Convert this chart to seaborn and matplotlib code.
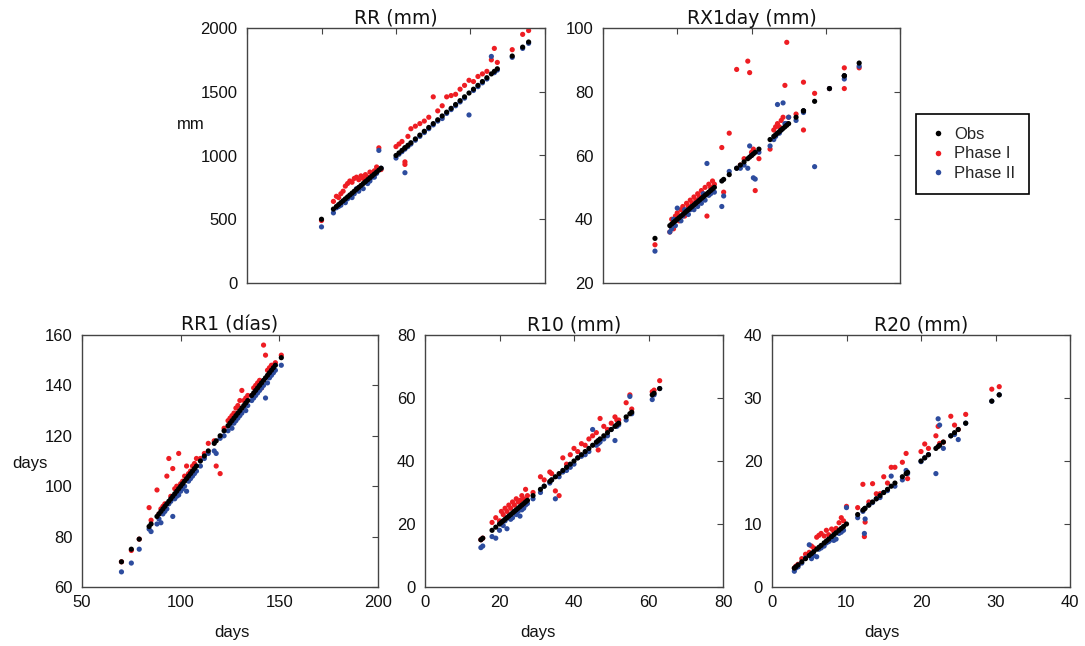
import matplotlib
matplotlib.use("Agg")
import matplotlib.pyplot as plt
from matplotlib.lines import Line2D
import pandas as pd
import seaborn as sns

# ---------------- data (x = observed value, y = value of each series) ----------------
rr_obs = [500, 580, 600, 615, 630, 645, 660, 675, 690, 705,
          720, 735, 750, 765, 780, 795, 810, 825, 840, 855,
          870, 885, 900, 1000, 1020, 1040, 1060, 1060, 1080, 1100,
          1130, 1160, 1190, 1220, 1250, 1280, 1310, 1340, 1370, 1400,
          1430, 1460, 1490, 1520, 1550, 1580, 1610, 1640, 1660, 1680,
          1780, 1850, 1890]
rr_p1 = [490, 640, 680, 670, 700, 720, 760, 780, 800, 790,
         820, 830, 810, 840, 820, 850, 830, 870, 850, 880,
         910, 1060, 890, 1070, 1090, 1110, 930, 950, 1150, 1210,
         1230, 1250, 1270, 1300, 1460, 1350, 1390, 1460, 1470, 1480,
         1520, 1550, 1590, 1580, 1620, 1640, 1660, 1750, 1840, 1730,
         1830, 1950, 1980]
rr_p2 = [440, 550, 590, 600, 610, 640, 630, 660, 680, 670,
         700, 740, 720, 750, 740, 790, 780, 800, 830, 830,
         860, 1040, 900, 980, 1010, 1030, 865, 1050, 1070, 1090,
         1120, 1150, 1180, 1210, 1240, 1270, 1290, 1330, 1360, 1390,
         1420, 1450, 1318, 1510, 1540, 1570, 1600, 1777, 1650, 1670,
         1770, 1840, 1880]

rx_obs = [34, 38, 38.5, 39, 39.5, 40, 40.5, 41, 41.5, 42,
          42.5, 43, 43.5, 44, 44.5, 45, 45.5, 46, 46.5, 47,
          47.5, 48, 48.5, 49, 49.5, 50, 52, 52.5, 54, 56,
          57, 58, 59, 59.5, 60, 60.5, 61, 62, 65, 66,
          66.5, 67, 67.5, 68, 68.5, 69, 69.5, 70, 72, 74,
          74, 77, 81, 85, 85, 89]
rx_p1 = [32, 36, 40, 37, 41, 42, 39.5, 43, 44, 41,
         45, 44, 46, 45, 47, 46, 48, 47, 49, 48,
         50, 41, 51, 50, 52, 51, 62.5, 48.5, 67, 87,
         57, 59, 89.6, 86, 61, 62, 49, 59, 62, 68,
         69, 70, 69, 71, 72, 82, 95.5, 72, 73, 83,
         68, 79.5, 81, 87.5, 81, 87.5]
rx_p2 = [30, 36, 37, 40, 38, 43.5, 40, 39.5, 41, 43,
         42, 41.5, 43, 44, 43, 45, 44, 46, 45, 48,
         46, 57.5, 47.5, 48, 49, 48.5, 44, 47.3, 55, 56,
         56, 57, 56, 63, 60, 53, 52.6, 61, 63, 65,
         66, 76, 67, 68, 76.5, 70, 70, 72, 71, 74,
         73.5, 56.5, 81, 85, 84, 88]

rr1_obs = [70, 75, 79, 84, 85, 88, 89, 90, 91, 92,
           93, 94, 95, 96, 97, 98, 99, 100, 101, 102,
           103, 104, 105, 106, 107, 108, 110, 112, 114, 117,
           118, 120, 122, 124, 125, 126, 127, 128, 129, 130,
           131, 132, 133, 134, 136, 137, 138, 139, 140, 141,
           142, 143, 144, 145, 146, 147, 148, 151]
rr1_p1 = [70, 74.5, 79, 91.5, 86.5, 98.5, 89, 91, 92, 93,
          104, 111, 96, 107, 99, 100, 113, 101, 102, 104,
          108, 105, 106, 108, 109, 111, 111, 113, 117, 118,
          108, 105, 123, 126, 127, 128, 129, 131, 132, 134,
          138, 134, 135, 136, 136, 139, 140, 141, 142, 139,
          156, 152, 146, 147, 148, 148, 149, 152]
rr1_p2 = [66, 69.5, 75, 83, 82, 85, 87, 85.5, 89, 90,
          91, 93, 94, 88, 95, 96, 96.5, 98, 99, 100,
          98, 102, 103, 104, 105, 106, 108, 111, 113, 114,
          113, 119, 120, 122, 124, 123, 125, 126, 127, 128,
          129, 131, 130, 132, 134, 135, 136, 137, 138, 139,
          140, 135, 141, 143, 144, 145, 146, 148]

r10_obs = [15, 15.5, 18, 19, 20, 20.5, 21, 21.5, 22, 22.5,
           23, 23.5, 24, 24.5, 25, 25.5, 26, 26.5, 27, 27.5,
           29, 31, 32, 33.5, 34, 35, 36, 37, 38, 39,
           40, 41, 42, 43, 44, 45, 46, 46.5, 47, 48,
           49, 50, 51, 51.5, 52, 54, 55, 55.5, 61, 61.5,
           63]
r10_p1 = [15, 15.5, 20.5, 22, 21, 24, 23, 25, 24, 26,
          25, 27, 26, 28, 27, 27.5, 29, 28, 31, 29,
          30, 35, 34, 36.5, 36, 30.5, 29, 41, 39, 42,
          44, 43, 45.5, 45, 47, 48, 49, 43.5, 53.5, 51,
          50, 52, 54, 53, 53, 58.5, 61, 56.5, 62, 62.5,
          65.5]
r10_p2 = [12.5, 13, 16, 15.5, 18, 20, 19.5, 21, 18.5, 22,
          21.5, 22, 24, 23, 24, 22.5, 24.5, 25, 26, 26.5,
          28, 30, 32, 33, 34, 28, 35, 36.5, 37, 38,
          39, 41, 41.5, 42, 43, 50, 45, 45.5, 46, 47,
          48, 50, 46.5, 51, 51.5, 53, 60.5, 55, 59.5, 61,
          63]

r20_obs = [3, 3.2, 3.5, 4, 4.5, 5, 5.3, 5.6, 6, 6.3,
           6.6, 7, 7.3, 7.6, 8, 8.3, 8.6, 9, 9.3, 9.6,
           10, 11.5, 12.2, 12.4, 12.5, 13, 13.5, 14, 14.5, 15,
           15.5, 16, 16.5, 17.5, 18, 18.2, 20, 20.5, 21, 22,
           22.3, 22.5, 23, 24, 24.5, 25, 26, 29.5, 30.5]
r20_p1 = [3, 3.3, 3.6, 4.5, 5.2, 5.5, 6.5, 6.2, 7.9, 8.2,
          8.5, 8.1, 9.0, 8.3, 9.2, 8.8, 9.3, 10.2, 11, 10.5,
          12.8, 12.6, 16.3, 8.0, 10.3, 13.5, 16.4, 14.8, 14.8, 17.5,
          16.5, 19, 19, 19.8, 21.2, 17.2, 21.5, 22.7, 22, 24,
          25.5, 22.8, 23, 27.1, 25.7, 25, 27.4, 31.4, 31.8]
r20_p2 = [2.5, 3, 3.2, 3.8, 4.6, 6.7, 4.5, 5, 4.8, 6,
          6.2, 6.5, 7, 7.2, 7.5, 7.4, 7.6, 8.5, 8.7, 9,
          12.6, 11, 12, 8.5, 10.8, 13, 13.4, 14, 14.2, 15,
          15.3, 17.6, 16, 17, 18.5, 18, 19.9, 20.5, 21, 18,
          26.7, 25.7, 22, 24, 24.2, 23.4, 26, 29.5, 30.5]

series_names = ["Obs", "Phase I", "Phase II"]
titles = ["RR (mm)", "RX1day (mm)", "RR1 (días)", "R10 (mm)", "R20 (mm)"]

# ---------------- style ----------------
sns.set_theme(style="white")
plt.rcParams["font.family"] = ["Liberation Sans", "DejaVu Sans"]
palette = {"Obs": "#000000", "Phase I": "#ee1d23", "Phase II": "#2d4c9e"}

W, H = 1085, 646
fig = plt.figure(figsize=(W / 100, H / 100), dpi=100)


def add_axes(l, t, r, b):
    return fig.add_axes([l / W, (H - b) / H, (r - l) / W, (b - t) / H])


panels = [
    dict(title=titles[0], data=(rr_obs, rr_p1, rr_p2), px=(247, 28, 545, 283),
         lim=(0, 2000), xt=[0, 500, 1000, 1500, 2000], yt=[0, 500, 1000, 1500, 2000],
         xlab=None, ylab=("mm", -0.188, 0.62)),
    dict(title=titles[1], data=(rx_obs, rx_p1, rx_p2), px=(603, 28, 900, 283),
         lim=(20, 100), xt=[20, 40, 60, 80, 100], yt=[20, 40, 60, 80, 100],
         xlab=None, ylab=None),
    dict(title=titles[2], data=(rr1_obs, rr1_p1, rr1_p2), px=(82, 335, 378, 587),
         lim=None, xlim=(50, 200), ylim=(60, 160), xt=[50, 100, 150, 200],
         yt=[60, 80, 100, 120, 140, 160], xlab=("days", 0.507, -0.18),
         ylab=("days", -0.176, 0.492)),
    dict(title=titles[3], data=(r10_obs, r10_p1, r10_p2), px=(425, 335, 723, 587),
         lim=(0, 80), xt=[0, 20, 40, 60, 80], yt=[0, 20, 40, 60, 80],
         xlab=("days", 0.379, -0.18), ylab=None),
    dict(title=titles[4], data=(r20_obs, r20_p1, r20_p2), px=(772, 335, 1070, 587),
         lim=(0, 40), xt=[0, 10, 20, 30, 40], yt=[0, 10, 20, 30, 40],
         xlab=("days", 0.369, -0.18), ylab=None),
]

for p in panels:
    ax = add_axes(*p["px"])
    obs, p1, p2 = p["data"]
    n = len(obs)
    df = pd.DataFrame({
        "obs": list(obs) * 3,
        "value": list(p1) + list(p2) + list(obs),
        "series": ["Phase I"] * n + ["Phase II"] * n + ["Obs"] * n,
    })
    sns.scatterplot(data=df, x="obs", y="value", hue="series",
                    hue_order=series_names, palette=palette, s=14,
                    linewidth=0, legend=False, ax=ax)
    if p.get("lim"):
        ax.set_xlim(*p["lim"])
        ax.set_ylim(*p["lim"])
    else:
        ax.set_xlim(*p["xlim"])
        ax.set_ylim(*p["ylim"])
    ax.set_xticks(p["xt"])
    ax.set_yticks(p["yt"])
    ax.tick_params(direction="in", length=4, width=0.8, top=True, right=True,
                   labelsize=12, color="#444444", labelcolor="#111111")
    ax.tick_params(axis="y", pad=7)
    ax.tick_params(axis="x", pad=6)
    if p["xlab"] is None:
        ax.tick_params(axis="x", labelbottom=False)
        ax.set_xlabel("")
    else:
        ax.set_xlabel(p["xlab"][0], fontsize=12, color="#111111")
        ax.xaxis.set_label_coords(p["xlab"][1], p["xlab"][2])
        ax.xaxis.label.set_va("center")
    if p["ylab"] is None:
        ax.set_ylabel("")
    else:
        ax.set_ylabel(p["ylab"][0], fontsize=12, rotation=0, color="#111111")
        ax.yaxis.set_label_coords(p["ylab"][1], p["ylab"][2])
        ax.yaxis.label.set_va("center")
        ax.yaxis.label.set_ha("center")
    for sp in ax.spines.values():
        sp.set_color("#444444")
        sp.set_linewidth(1.0)
    ax.set_title(p["title"], fontsize=13.5, family="DejaVu Sans", pad=3, color="#111111")

handles = [Line2D([], [], linestyle="none", marker="o", markersize=4,
                  markerfacecolor=palette[k], markeredgewidth=0) for k in series_names]
leg = fig.legend(handles, series_names, loc="upper left",
                 bbox_to_anchor=(916 / W, 1 - 114 / H), bbox_transform=fig.transFigure,
                 borderaxespad=0, frameon=True, fancybox=False, edgecolor="black",
                 fontsize=12, handlelength=1.0, handletextpad=0.5, borderpad=0.8,
                 labelspacing=0.25, framealpha=1)
leg.get_frame().set_linewidth(1.2)

fig.savefig("out.png", dpi=100)
